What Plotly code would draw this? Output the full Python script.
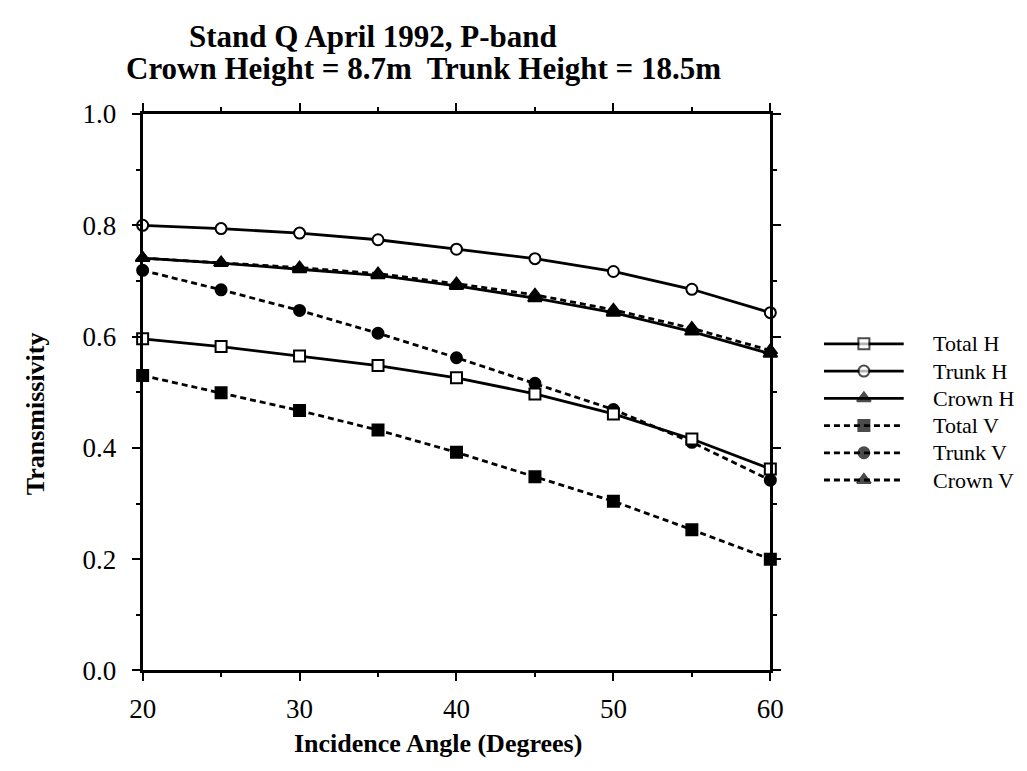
import plotly.graph_objects as go

W, H = 1027, 771

angles = [20, 25, 30, 35, 40, 45, 50, 55, 60]
series_names = ["Total H", "Trunk H", "Crown H", "Total V", "Trunk V", "Crown V"]
total_h = [0.596, 0.582, 0.565, 0.548, 0.526, 0.497, 0.461, 0.416, 0.362]
trunk_h = [0.800, 0.794, 0.786, 0.774, 0.757, 0.740, 0.717, 0.685, 0.643]
crown_h = [0.741, 0.732, 0.721, 0.710, 0.691, 0.669, 0.643, 0.609, 0.569]
total_v = [0.530, 0.499, 0.467, 0.432, 0.392, 0.348, 0.304, 0.253, 0.200]
trunk_v = [0.719, 0.684, 0.647, 0.606, 0.562, 0.516, 0.469, 0.410, 0.342]
crown_v = [0.741, 0.733, 0.724, 0.713, 0.695, 0.675, 0.648, 0.615, 0.575]
x_ticks = [20, 30, 40, 50, 60]
y_ticks = [0.0, 0.2, 0.4, 0.6, 0.8, 1.0]

FONT = "Liberation Serif, Times New Roman, serif"
BLACK = "#000000"
DASH = "6px,4px"

styles = {
    "Total H": dict(dash="solid", symbol="square", fill="white", size=11),
    "Trunk H": dict(dash="solid", symbol="circle", fill="white", size=11),
    "Crown H": dict(dash="solid", symbol="triangle-up", fill=BLACK, size=12),
    "Total V": dict(dash=DASH, symbol="square", fill=BLACK, size=11),
    "Trunk V": dict(dash=DASH, symbol="circle", fill=BLACK, size=11),
    "Crown V": dict(dash=DASH, symbol="triangle-up", fill=BLACK, size=12),
}
values = {
    "Total H": total_h, "Trunk H": trunk_h, "Crown H": crown_h,
    "Total V": total_v, "Trunk V": trunk_v, "Crown V": crown_v,
}
draw_order = ["Total V", "Trunk V", "Total H", "Crown H", "Crown V", "Trunk H"]

fig = go.Figure()
for name in draw_order:
    s = styles[name]
    fig.add_trace(go.Scatter(
        x=angles, y=values[name], mode="lines+markers", name=name,
        line=dict(color=BLACK, width=2.8, dash=s["dash"]),
        marker=dict(symbol=s["symbol"], size=s["size"], color=s["fill"],
                    line=dict(color=BLACK, width=2)),
        cliponaxis=False, showlegend=False, xaxis="x", yaxis="y",
    ))

# custom legend samples (line + marker) on an auxiliary axis
for i, name in enumerate(series_names):
    s = styles[name]
    fig.add_trace(go.Scatter(
        x=[0, 0.5, 1], y=[i, i, i], mode="lines+markers",
        line=dict(color=BLACK, width=2.8, dash=s["dash"]),
        marker=dict(symbol=s["symbol"], size=[0, s["size"], 0], color=s["fill"],
                    line=dict(color=BLACK, width=[0, 2, 0])),
        cliponaxis=False, showlegend=False, xaxis="x2", yaxis="y2",
        hoverinfo="skip",
    ))

px_l, px_r, px_t, px_b = 133, 777, 103, 682
leg_l, leg_r, leg_t, leg_b = 832, 914, 328, 498

axis_common = dict(
    showline=True, linecolor=BLACK, linewidth=2.8, mirror="ticks",
    ticks="outside", ticklen=8, tickwidth=2.2, tickcolor=BLACK,
    showgrid=False, zeroline=False,
    tickfont=dict(family=FONT, size=27, color=BLACK),
)

fig.update_layout(
    width=W, height=H, margin=dict(l=0, r=0, t=0, b=0),
    paper_bgcolor="white", plot_bgcolor="white",
    xaxis=dict(domain=[px_l / W, px_r / W], range=[20, 60],
               tickvals=x_ticks, ticklabelstandoff=4,
               minor=dict(dtick=5, ticks="outside", ticklen=4, tickwidth=2.2, tickcolor=BLACK),
               anchor="y", **axis_common),
    yaxis=dict(domain=[1 - px_b / H, 1 - px_t / H], range=[0, 1],
               tickvals=y_ticks, tickformat=".1f", ticklabelstandoff=10,
               minor=dict(dtick=0.1, ticks="outside", ticklen=4, tickwidth=2.2, tickcolor=BLACK),
               anchor="x", **axis_common),
    xaxis2=dict(domain=[leg_l / W, leg_r / W], range=[0, 1], visible=False, anchor="y2"),
    yaxis2=dict(domain=[1 - leg_b / H, 1 - leg_t / H], range=[5.5, -0.5], visible=False, anchor="x2"),
    showlegend=False,
)

annotations = [
    dict(text="<b>Stand Q April 1992, P-band</b>", x=369.5 / W, y=1 - 22 / H,
         font=dict(size=31)),
    dict(text="<b>Crown Height = 8.7m  Trunk Height = 18.5m</b>", x=421.5 / W, y=1 - 56 / H,
         font=dict(size=31)),
    dict(text="<b>Incidence Angle (Degrees)</b>", x=436 / W, y=1 - 758 / H,
         font=dict(size=26)),
    dict(text="<b>Transmissivity</b>", x=23 / W, y=1 - 415 / H, textangle=-90,
         font=dict(size=26)),
]
for i, name in enumerate(series_names):
    annotations.append(dict(text=name, x=942 / W, y=1 - (leg_t + (i + 0.5) * (leg_b - leg_t) / 6) / H,
                            xanchor="left", font=dict(size=22)))
for a in annotations:
    a.setdefault("xanchor", "center")
    a.update(xref="paper", yref="paper", yanchor="middle", showarrow=False)
    a["font"].update(family=FONT, color=BLACK)
fig.update_layout(annotations=annotations)

fig.write_html("out.html")
